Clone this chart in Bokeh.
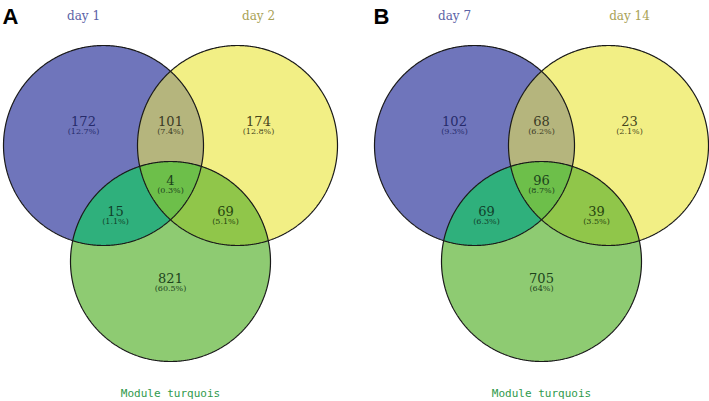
import numpy as np
from bokeh.plotting import figure
from bokeh.models import Range1d
from bokeh.embed import file_html
from bokeh.resources import INLINE
from bokeh.core.properties import value

# ---------------- data ----------------
panel_letters = ["A", "B"]
set_names_A = ["day 1", "day 2", "Module turquois"]
set_names_B = ["day 7", "day 14", "Module turquois"]
# region order: only1, 1&2, only2, 1&2&3, 1&3, 2&3, only3
counts_A = [172, 101, 174, 4, 15, 69, 821]
pct_A = ["12.7%", "7.4%", "12.8%", "0.3%", "1.1%", "5.1%", "60.5%"]
counts_B = [102, 68, 23, 96, 69, 39, 705]
pct_B = ["9.3%", "6.2%", "2.1%", "8.7%", "6.3%", "3.5%", "64%"]

# ---------------- layout / style ----------------
W, H = 709, 401
p = figure(width=W, height=H, output_backend="svg", toolbar_location=None,
           x_range=Range1d(0, W), y_range=Range1d(H, 0),
           min_border=0, outline_line_color=None)
p.axis.visible = False
p.grid.visible = False
p.background_fill_color = "white"

R = 100.0
centers = [(103.0, 145.0), (237.0, 145.0), (170.0, 261.0)]
panel_dx = [0.0, 371.0]

fill_single = ["#6f75bb", "#f2ef85", "#8ecb72"]
fill_12, fill_13, fill_23, fill_123 = "#b5b57d", "#2fb07c", "#90c64a", "#6dbf4a"
name_colors = ["#5b62a6", "#a9a256", "#2f9a4c"]
num_colors = ["#262b6a", "#3a3a24", "#46461c", "#1c431c", "#0f3f2a", "#26440e", "#1c431c"]
# label offsets (region order) relative to panel origin
label_pos = [(83, 120), (170, 120), (258, 120), (170, 179), (115, 210), (225, 210), (170, 277)]

serif = value("DejaVu Serif")


def circle_pts(c, n=720):
    t = np.linspace(0, 2 * np.pi, n, endpoint=False)
    return np.c_[c[0] + R * np.cos(t), c[1] + R * np.sin(t)]


def intersection(cs):
    pts = []
    for i, c in enumerate(cs):
        q = circle_pts(c)
        ok = np.ones(len(q), bool)
        for j, d in enumerate(cs):
            if j != i:
                ok &= (q[:, 0] - d[0]) ** 2 + (q[:, 1] - d[1]) ** 2 <= R * R + 1e-6
        pts.append(q[ok])
    pts = np.vstack(pts)
    m = pts.mean(axis=0)
    order = np.argsort(np.arctan2(pts[:, 1] - m[1], pts[:, 0] - m[0]))
    pts = pts[order]
    return pts[:, 0], pts[:, 1]


panels = [(set_names_A, counts_A, pct_A), (set_names_B, counts_B, pct_B)]
for k, (names, counts, pcts) in enumerate(panels):
    dx = panel_dx[k]
    cs = [(c[0] + dx, c[1]) for c in centers]
    for i in range(3):
        q = circle_pts(cs[i])
        p.patch(q[:, 0], q[:, 1], fill_color=fill_single[i], line_color=None)
    for (a, b), col in [((0, 1), fill_12), ((0, 2), fill_13), ((1, 2), fill_23)]:
        xs, ys = intersection([cs[a], cs[b]])
        p.patch(xs, ys, fill_color=col, line_color=None)
    xs, ys = intersection(cs)
    p.patch(xs, ys, fill_color=fill_123, line_color=None)
    for i in range(3):
        q = circle_pts(cs[i])
        p.patch(q[:, 0], q[:, 1], fill_color=None, line_color="#1a1a1a", line_width=1.2)

    # region labels
    lx = [x + dx for x, _ in label_pos]
    ly = [y for _, y in label_pos]
    p.text(x=lx, y=ly, text=[str(c) for c in counts], text_font=serif,
           text_font_size="13px", text_align="center", text_baseline="middle",
           text_color=num_colors)
    p.text(x=lx, y=[y + 11 for y in ly], text=["(" + s + ")" for s in pcts], text_font=serif,
           text_font_size="8px", text_align="center", text_baseline="middle",
           text_color=num_colors)

    # set names
    p.text(x=[83 + dx, 258 + dx], y=[15, 15], text=names[:2], text_font=serif,
           text_font_size="12px", text_align="center", text_baseline="middle",
           text_color=name_colors[:2])
    p.text(x=[170 + dx], y=[393], text=[names[2]], text_font=value("DejaVu Sans Mono"),
           text_font_size="11px", text_align="center", text_baseline="middle",
           text_color=name_colors[2])

    # panel letter
    p.text(x=[2 + dx], y=[16], text=[panel_letters[k]], text_font=value("Liberation Sans"),
           text_font_size="22px", text_font_style="bold", text_align="left",
           text_baseline="middle", text_color="black")

open("out.html", "w").write(file_html(p, INLINE))
